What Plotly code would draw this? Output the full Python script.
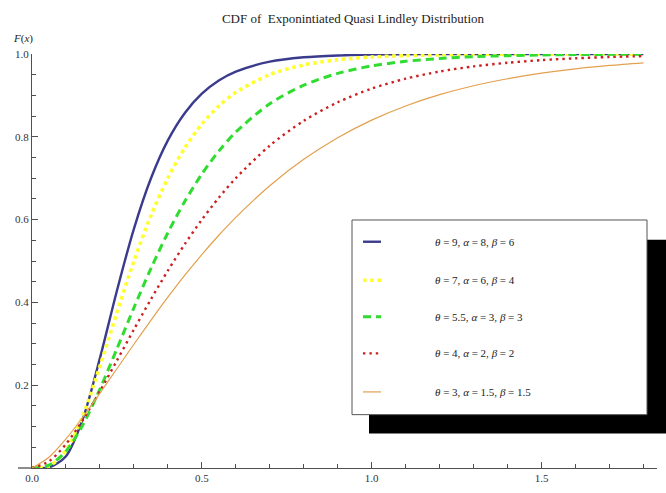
import plotly.graph_objects as go

# ---------------- data ----------------
x_vals = [0, 0.05, 0.1, 0.15, 0.2, 0.25, 0.3, 0.35, 0.4, 0.45, 0.5, 0.55, 0.6,
          0.7, 0.8, 0.9, 1.0, 1.1, 1.2, 1.3, 1.4, 1.5, 1.6, 1.7, 1.8]

f_theta9 = [0, 0.0013, 0.0285, 0.1196, 0.2653, 0.4283, 0.5778, 0.6994, 0.7914, 0.8577,
            0.9041, 0.9359, 0.9574, 0.9814, 0.9920, 0.9965, 0.9985, 0.9994, 0.9997,
            0.9999, 0.99995, 1.0, 1.0, 1.0, 1.0]
f_theta7 = [0, 0.0046, 0.0424, 0.1275, 0.2458, 0.3755, 0.4998, 0.6093, 0.7006, 0.7737,
            0.8308, 0.8745, 0.9074, 0.9503, 0.9736, 0.9861, 0.9927, 0.9962, 0.9980,
            0.9990, 0.9995, 0.9997, 0.9999, 0.9999, 1.0]
f_theta55 = [0, 0.0067, 0.0406, 0.1047, 0.1907, 0.2878, 0.3870, 0.4818, 0.5682, 0.6444,
             0.7100, 0.7654, 0.8114, 0.8799, 0.9246, 0.9532, 0.9712, 0.9823, 0.9892,
             0.9935, 0.9960, 0.9976, 0.9986, 0.9991, 0.9995]
f_theta4 = [0, 0.0161, 0.0577, 0.1166, 0.1856, 0.2596, 0.3345, 0.4075, 0.4767, 0.5410,
            0.5998, 0.6528, 0.7001, 0.7787, 0.8386, 0.8834, 0.9164, 0.9404, 0.9577,
            0.9701, 0.9789, 0.9852, 0.9896, 0.9927, 0.9949]
f_theta3 = [0, 0.0260, 0.0703, 0.1232, 0.1806, 0.2398, 0.2989, 0.3568, 0.4126, 0.4657,
            0.5156, 0.5622, 0.6055, 0.6818, 0.7455, 0.7978, 0.8403, 0.8744, 0.9017,
            0.9233, 0.9403, 0.9537, 0.9642, 0.9723, 0.9787]

series_labels = [
    "<i>θ</i> = 9, <i>α</i> = 8, <i>β</i> = 6",
    "<i>θ</i> = 7, <i>α</i> = 6, <i>β</i> = 4",
    "<i>θ</i> = 5.5, <i>α</i> = 3, <i>β</i> = 3",
    "<i>θ</i> = 4, <i>α</i> = 2, <i>β</i> = 2",
    "<i>θ</i> = 3, <i>α</i> = 1.5, <i>β</i> = 1.5",
]
x_tickvals = [0, 0.5, 1.0, 1.5]
x_ticktext = ["0.0", "0.5", "1.0", "1.5"]
y_tickvals = [0.2, 0.4, 0.6, 0.8, 1.0]
y_ticktext = ["0.2", "0.4", "0.6", "0.8", "1.0"]

# ---------------- styles ----------------
series = [f_theta9, f_theta7, f_theta55, f_theta4, f_theta3]
colors = ["#3b3b8e", "#ffff2e", "#2fdc2f", "#cc1f1f", "#e3a04e"]
widths = [2.4, 3.6, 3.0, 2.4, 1.2]
dashes = ["solid", "3.6px,3.6px", "8px,5px", "2.4px,4px", "solid"]

W, H = 666, 493
ML, MR, MT, MB = 32, 9, 54, 20
PW, PH = W - ML - MR, H - MT - MB

def px(xp):
    return (xp - ML) / PW

def py(yp):
    return (H - MB - yp) / PH

fig = go.Figure()
for ys, c, w, d, lab in zip(series, colors, widths, dashes, series_labels):
    fig.add_trace(go.Scatter(x=x_vals, y=ys, mode="lines", name=lab,
                             line=dict(color=c, width=w, dash=d, shape="spline", smoothing=0.8),
                             showlegend=False, hoverinfo="skip"))

serif = "Liberation Serif, Times New Roman, serif"
axis_color = "#505050"

fig.update_layout(
    width=W, height=H,
    margin=dict(l=ML, r=MR, t=MT, b=MB),
    paper_bgcolor="white", plot_bgcolor="white",
    font=dict(family=serif, size=11, color="#333"),
    title=dict(text="CDF of  Exponintiated Quasi Lindley Distribution",
               x=353 / W, xanchor="center", y=1 - 18 / H, yanchor="middle",
               font=dict(family=serif, size=13, color="#222")),
    xaxis=dict(range=[0, 1.84], showgrid=False, zeroline=False, showline=True,
               linecolor=axis_color, linewidth=1.3, ticks="inside", ticklen=6,
               tickcolor=axis_color, tickwidth=1.2, tickvals=x_tickvals, ticktext=x_ticktext,
               tickfont=dict(family=serif, size=11, color="#333"),
               minor=dict(tick0=0, dtick=0.1, ticks="inside", ticklen=3.5,
                          tickcolor=axis_color, tickwidth=1),
               fixedrange=True),
    yaxis=dict(range=[0, 1.0], showgrid=False, zeroline=False, showline=True,
               linecolor=axis_color, linewidth=1.3, ticks="inside", ticklen=6,
               tickcolor=axis_color, tickwidth=1.2, tickvals=y_tickvals, ticktext=y_ticktext,
               tickfont=dict(family=serif, size=11, color="#333"),
               minor=dict(tick0=0, dtick=0.05, ticks="inside", ticklen=3.5,
                          tickcolor=axis_color, tickwidth=1),
               fixedrange=True),
)

shapes = []
# x-axis extension to the left of the origin
shapes.append(dict(type="line", xref="paper", yref="paper", x0=px(18), x1=0, y0=0, y1=0,
                   line=dict(color=axis_color, width=1.3)))
# legend shadow and box
shapes.append(dict(type="rect", xref="paper", yref="paper",
                   x0=px(369), x1=px(666), y0=py(438), y1=py(242),
                   fillcolor="black", line=dict(width=0)))
shapes.append(dict(type="rect", xref="paper", yref="paper",
                   x0=px(352), x1=px(647), y0=py(419), y1=py(222),
                   fillcolor="white", line=dict(color="#555", width=1)))
rows = [244, 283, 320, 357, 396]
annotations = []
for r, c, w, d, lab in zip(rows, colors, widths, dashes, series_labels):
    shapes.append(dict(type="line", xref="paper", yref="paper",
                       x0=px(363), x1=px(381), y0=py(r), y1=py(r),
                       line=dict(color=c, width=w, dash=d)))
    annotations.append(dict(text=lab, xref="paper", yref="paper", x=px(433), y=py(r),
                            xanchor="left", yanchor="middle", showarrow=False,
                            font=dict(family=serif, size=11, color="#222")))
annotations.append(dict(text="<i>F</i>(<i>x</i>)", xref="paper", yref="paper",
                        x=px(23), y=py(38), xanchor="center", yanchor="middle",
                        showarrow=False, font=dict(family=serif, size=11, color="#222")))
fig.update_layout(shapes=shapes, annotations=annotations)

fig.write_html("out.html")
